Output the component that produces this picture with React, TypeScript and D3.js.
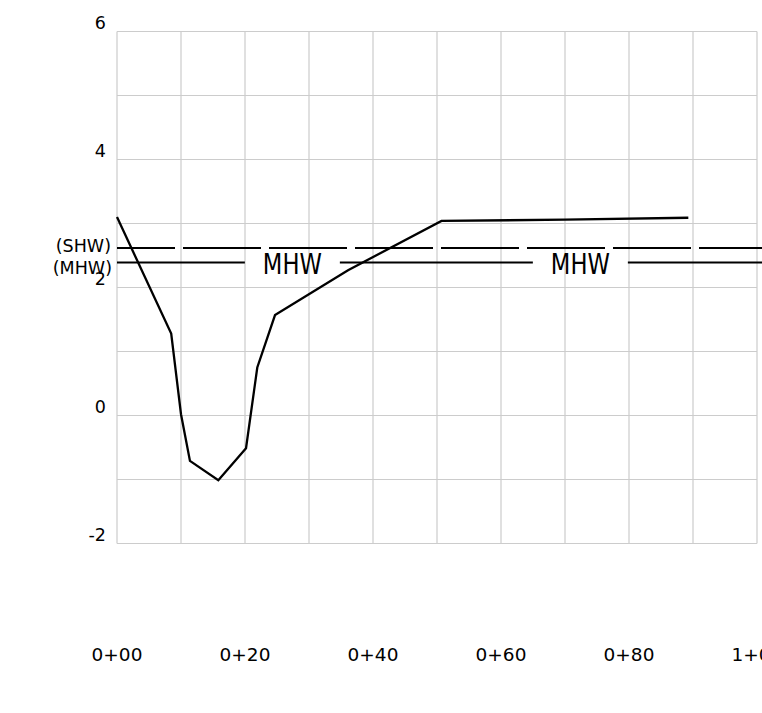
import React from "react";
import * as d3 from "d3";

const stations = [0, 8.47, 10.0, 11.4, 15.83, 20.16, 21.92, 24.69, 36.1, 50.7, 70, 89.27];
const elevations = [3.1, 1.28, 0.02, -0.71, -1.01, -0.51, 0.75, 1.57, 2.27, 3.04, 3.06, 3.09];

const xTicks = [0, 20, 40, 60, 80, 100];
const xTickLabels = ["0+00", "0+20", "0+40", "0+60", "0+80", "1+00"];
const xGrid = [0, 10, 20, 30, 40, 50, 60, 70, 80, 90, 100];
const yTicks = [-2, 0, 2, 4, 6];
const yGrid = [-2, -1, 0, 1, 2, 3, 4, 5, 6];

const shwLevel = 2.617;
const mhwLevel = 2.39;
const mhwLabelStations = [27.4, 72.4];

const W = 762;
const H = 713;
const FONT = "DejaVu Sans, Verdana, sans-serif";

export default function App() {
  const x = d3.scaleLinear().domain([0, 100]).range([117, 757]);
  const y = d3.scaleLinear().domain([-2, 6]).range([543.5, 31.5]);

  const line = d3
    .line<number>()
    .x((_, i) => x(stations[i]))
    .y((d) => y(d));

  const gapHalf = 47.5;
  const mhwY = y(mhwLevel);
  const shwY = y(shwLevel);
  const segStarts = [x(0), ...mhwLabelStations.map((s) => x(s) + gapHalf)];
  const segEnds = [...mhwLabelStations.map((s) => x(s) - gapHalf), W + 10];

  return (
    <svg
      width={W}
      height={H}
      style={{ position: "absolute", left: 0, top: 0, background: "#fff" }}
    >
      <rect x={0} y={0} width={W} height={H} fill="#fff" />
      {xGrid.map((g) => (
        <line
          key={"vx" + g}
          x1={x(g)}
          x2={x(g)}
          y1={y(6)}
          y2={y(-2)}
          stroke="#cccccc"
          strokeWidth={1.2}
        />
      ))}
      {yGrid.map((g) => (
        <line
          key={"hy" + g}
          x1={x(0)}
          x2={x(100)}
          y1={y(g)}
          y2={y(g)}
          stroke="#cccccc"
          strokeWidth={1.2}
        />
      ))}
      {yTicks.map((t) => (
        <text
          key={"yt" + t}
          x={106}
          y={y(t) - 2.5}
          textAnchor="end"
          fontFamily={FONT}
          fontSize={17.5}
          fill="#000"
        >
          {t}
        </text>
      ))}
      {xTicks.map((t, i) => (
        <text
          key={"xt" + t}
          x={x(t)}
          y={661}
          textAnchor="middle"
          fontFamily={FONT}
          fontSize={18.5}
          fill="#000"
        >
          {xTickLabels[i]}
        </text>
      ))}
      {/* SHW dashed line */}
      <line
        x1={x(0)}
        x2={W + 10}
        y1={shwY}
        y2={shwY}
        stroke="#000"
        strokeWidth={2}
        strokeDasharray="78 8"
        strokeDashoffset={20}
      />
      {/* MHW solid line with label gaps */}
      {segStarts.map((s, i) => (
        <line
          key={"mhw" + i}
          x1={s}
          x2={segEnds[i]}
          y1={mhwY}
          y2={mhwY}
          stroke="#000"
          strokeWidth={2}
        />
      ))}
      {mhwLabelStations.map((s) => (
        <text
          key={"ml" + s}
          x={x(s) - 29.5}
          y={273.5}
          fontFamily={FONT}
          fontSize={28}
          textLength={59}
          lengthAdjust="spacingAndGlyphs"
          fill="#000"
        >
          MHW
        </text>
      ))}
      <text
        x={111}
        y={251.5}
        textAnchor="end"
        fontFamily={FONT}
        fontSize={17.5}
        fill="#000"
      >
        (SHW)
      </text>
      <text
        x={112}
        y={274}
        textAnchor="end"
        fontFamily={FONT}
        fontSize={17.5}
        fill="#000"
      >
        (MHW)
      </text>
      <path
        d={line(elevations) || ""}
        fill="none"
        stroke="#000"
        strokeWidth={2.3}
        strokeLinejoin="miter"
      />
    </svg>
  );
}
